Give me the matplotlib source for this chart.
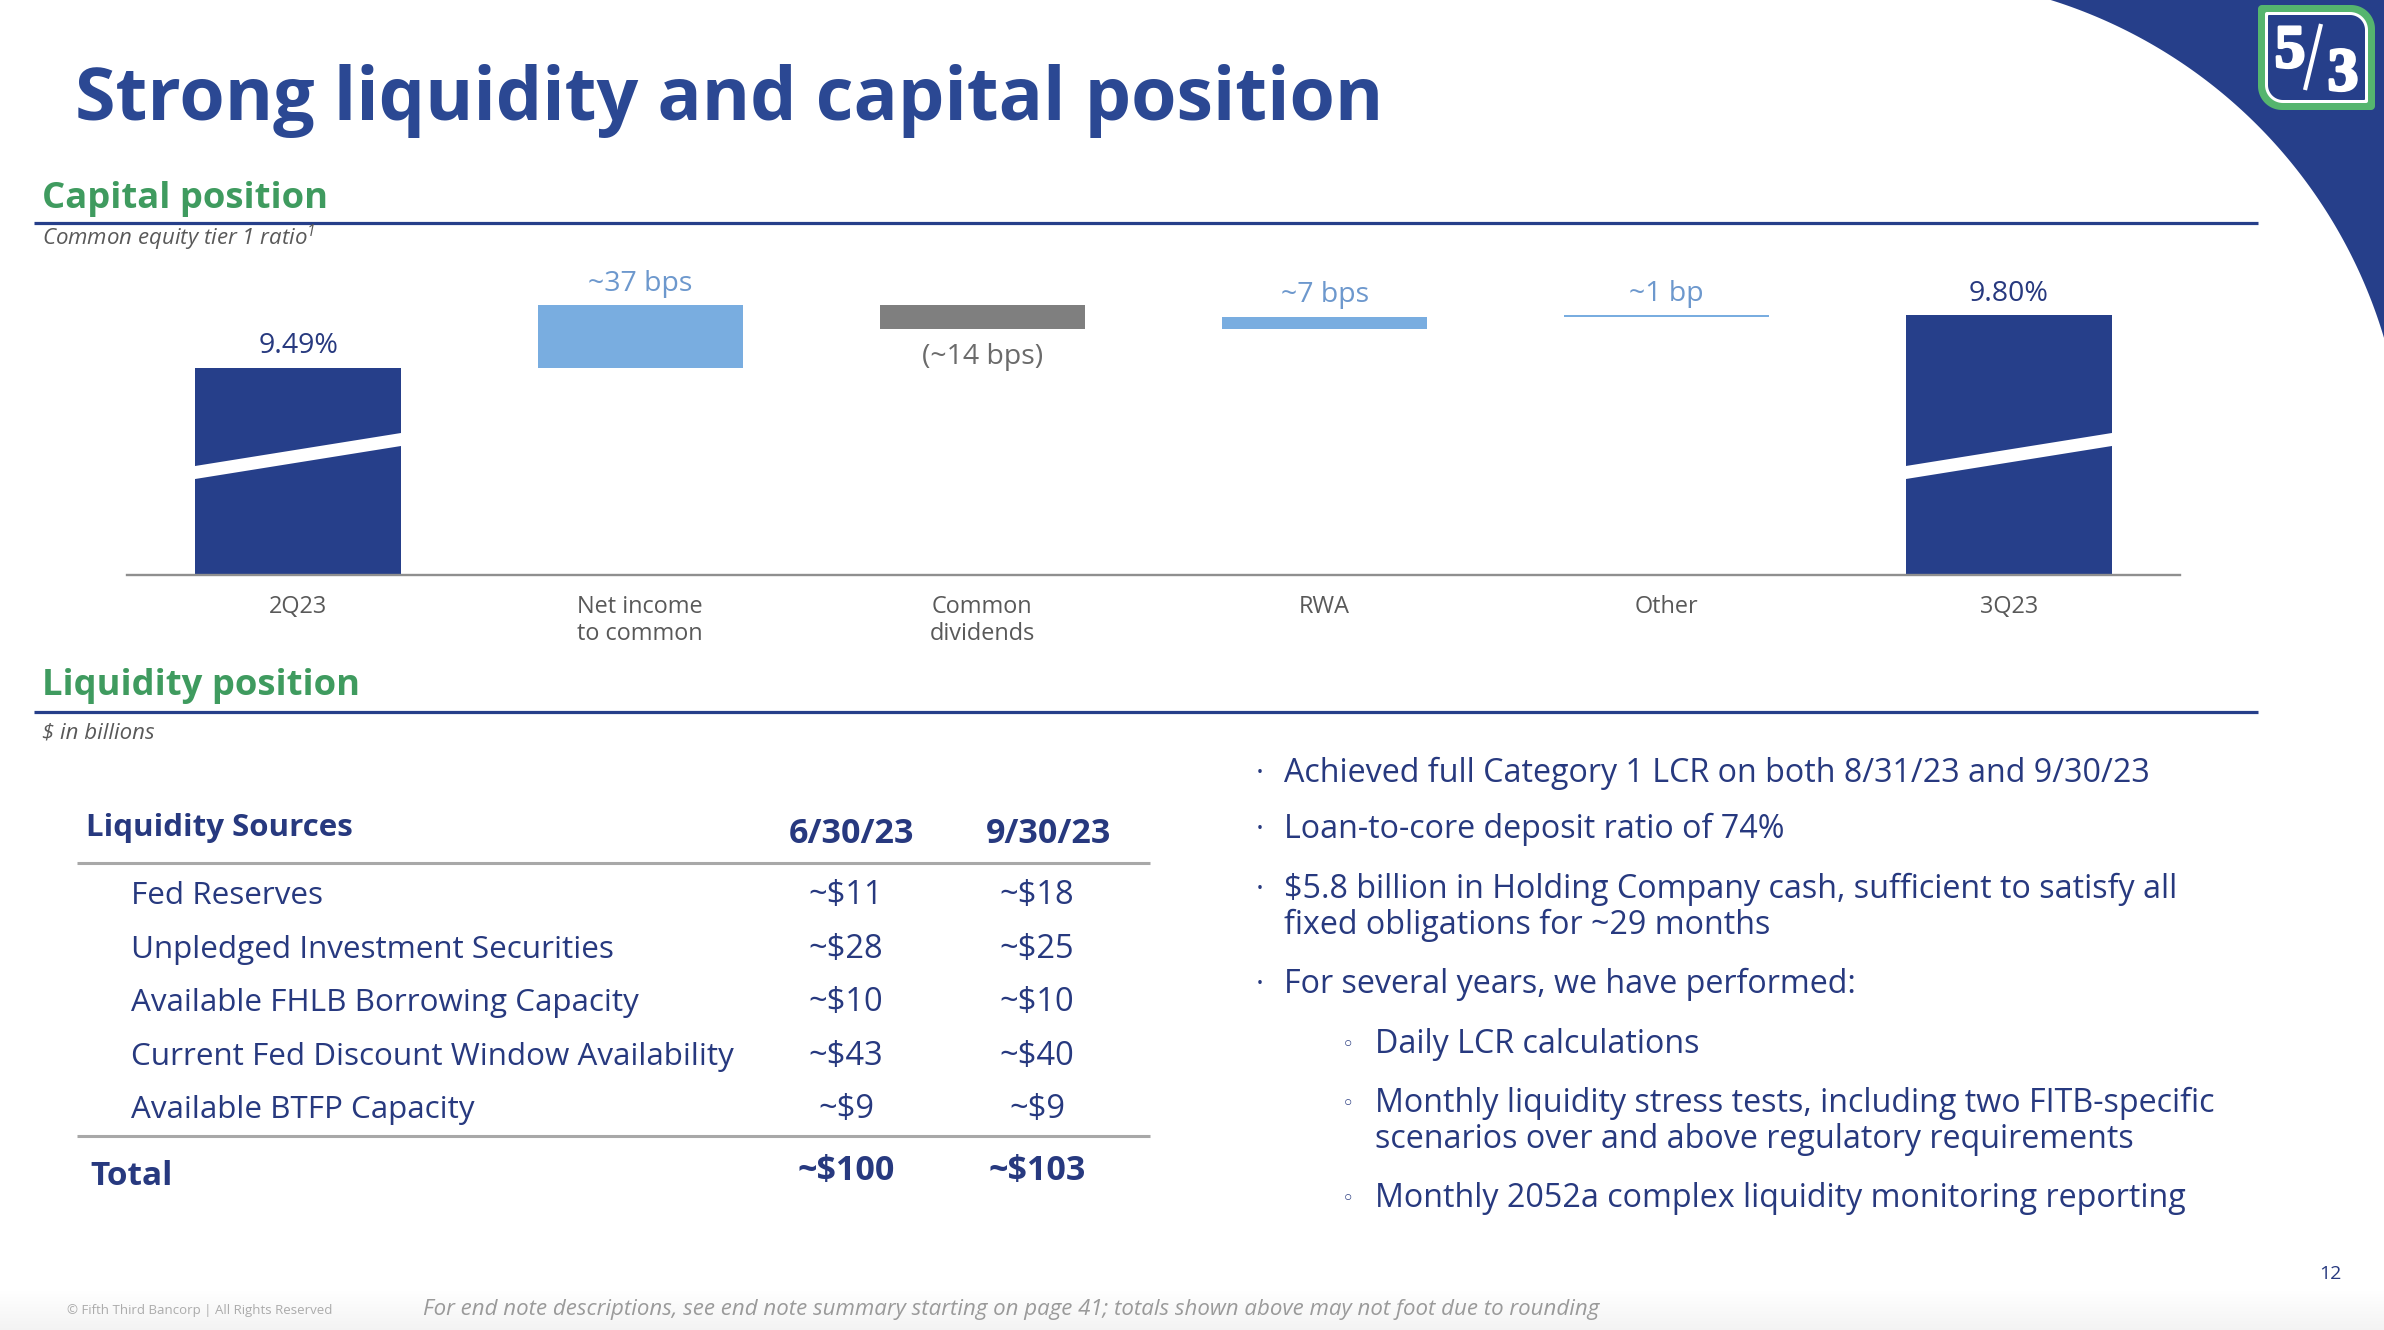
import matplotlib
matplotlib.use('Agg')
import matplotlib.pyplot as plt
from matplotlib import transforms
from matplotlib.patches import Polygon
import matplotlib.patheffects as pe
import numpy as np

# ---------------- data ----------------
categories = ['2Q23', 'Net income\nto common', 'Common\ndividends', 'RWA', 'Other', '3Q23']
start_ratio = 9.49          # CET1 ratio 2Q23, %
change_bps = [37, -14, 7, 1]  # net income, dividends, RWA, other
end_ratio = 9.80            # CET1 ratio 3Q23, %
value_labels = ['9.49%', '~37 bps', '(~14 bps)', '~7 bps', '~1 bp', '9.80%']

liq_sources = ['Fed Reserves', 'Unpledged Investment Securities',
               'Available FHLB Borrowing Capacity',
               'Current Fed Discount Window Availability', 'Available BTFP Capacity']
liq_jun = [11, 28, 10, 43, 9]
liq_sep = [18, 25, 10, 40, 9]
liq_total = [100, 103]
liq_dates = ['6/30/23', '9/30/23']

bullets = [
    (0, ['Achieved full Category 1 LCR on both 8/31/23 and 9/30/23']),
    (0, ['Loan-to-core deposit ratio of 74%']),
    (0, ['$5.8 billion in Holding Company cash, sufficient to satisfy all',
         'fixed obligations for ~29 months']),
    (0, ['For several years, we have performed:']),
    (1, ['Daily LCR calculations']),
    (1, ['Monthly liquidity stress tests, including two FITB-specific',
         'scenarios over and above regulatory requirements']),
    (1, ['Monthly 2052a complex liquidity monitoring reporting']),
]

# ---------------- style ----------------
W, H, DPI = 2384, 1330, 100
FONT = ['Open Sans', 'DejaVu Sans']
NAVY = '#263f8a'
TITLE_BLUE = '#2b4893'
TEXT_NAVY = '#27397f'
GREEN = '#3f9b5f'
LIGHT_BLUE = '#79ade0'
LABEL_BLUE = '#6d98cd'
GRAY_BAR = '#7f7f7f'
CAT_GRAY = '#595959'
LINE_GRAY = '#a8a8a8'
AXIS_FLOOR, AXIS_TOP = 8.2724, 10.1253

plt.rcParams['font.family'] = FONT

fig = plt.figure(figsize=(W / DPI, H / DPI), dpi=DPI)
fig.patch.set_facecolor('white')

# overlay in pixel coordinates (y down)
ov = fig.add_axes([0, 0, 1, 1])
ov.set_xlim(0, W)
ov.set_ylim(H, 0)
ov.axis('off')

# footer soft gradient
grad = np.linspace(1.0, 0.955, 40).reshape(-1, 1) * np.ones((1, 10))
ov.imshow(np.dstack([grad, grad, grad]), extent=[0, W, H, H - 40], aspect='auto', zorder=0)

# top-right crescent
cx, cy, R = 1900, 482, 505
t = np.linspace(np.arccos((2040 - cx) / R), np.arccos((W - cx) / R), 120)
arc = np.column_stack([cx + R * np.cos(t), cy - R * np.sin(t)])
cres = np.vstack([[[2040, -5]], arc, [[W + 5, arc[-1, 1]], [W + 5, -5]]])
ov.add_patch(Polygon(cres, closed=True, facecolor=NAVY, edgecolor='none', zorder=1))


def rrect(x0, y0, x1, y1, r):
    tl, tr, br, bl = r
    pts = []
    for (ccx, ccy, rr, a0, a1) in [(x0 + tl, y0 + tl, tl, 180, 270),
                                    (x1 - tr, y0 + tr, tr, 270, 360),
                                    (x1 - br, y1 - br, br, 0, 90),
                                    (x0 + bl, y1 - bl, bl, 90, 180)]:
        a = np.radians(np.linspace(a0, a1, 20))
        pts.append(np.column_stack([ccx + rr * np.cos(a), ccy + rr * np.sin(a)]))
    return np.vstack(pts)


# logo
lx0, ly0, lx1, ly1 = 2258, 5, 2375, 110
ov.add_patch(Polygon(rrect(lx0, ly0, lx1, ly1, (4, 24, 4, 24)), closed=True,
                     facecolor='#55b56e', edgecolor='none', zorder=2))
ov.add_patch(Polygon(rrect(lx0 + 7, ly0 + 7, lx1 - 7, ly1 - 7, (2, 18, 2, 18)), closed=True,
                     facecolor='white', edgecolor='none', zorder=3))
ov.add_patch(Polygon(rrect(lx0 + 10, ly0 + 10, lx1 - 10, ly1 - 10, (1, 15, 1, 15)), closed=True,
                     facecolor=NAVY, edgecolor='none', zorder=4))
thick = [pe.withStroke(linewidth=2.2, foreground='white')]
ov.text(2290, 67, '5', family=['Liberation Serif', 'DejaVu Serif'], fontweight='bold',
        fontsize=44, color='white', ha='center', va='baseline', zorder=5, path_effects=thick)
ov.plot([2321, 2305], [24, 90], color='white', lw=3.0, solid_capstyle='butt', zorder=5)
ov.text(2343, 90, '3', family=['Liberation Serif', 'DejaVu Serif'], fontweight='bold',
        fontsize=44, color='white', ha='center', va='baseline', zorder=5, path_effects=thick)

# title
ov.text(75, 120, 'Strong liquidity and capital position', fontsize=52.9, fontweight='bold',
        color=TITLE_BLUE, ha='left', va='baseline')

# section headers
ov.text(42, 208, 'Capital position', fontsize=26.2, fontweight='bold', color=GREEN,
        ha='left', va='baseline')
ov.plot([34, 2258], [222.5, 222.5], color=NAVY, lw=2.3, solid_capstyle='butt')
ov.text(42, 245, r'Common equity tier 1 ratio$^{\mathregular{1}}$', fontsize=16,
        style='italic', color='#595959', ha='left', va='baseline')

ov.text(42, 695, 'Liquidity position', fontsize=26.2, fontweight='bold', color=GREEN,
        ha='left', va='baseline')
ov.plot([34, 2258], [712, 712], color=NAVY, lw=2.3, solid_capstyle='butt')
ov.text(42, 738, '$ in billions', fontsize=16, style='italic', color='#595959',
        ha='left', va='baseline')

# ---------------- waterfall chart ----------------
ax = fig.add_axes([127 / W, 1 - 575 / H, (2180 - 127) / W, 315 / H])
ax.patch.set_alpha(0)
ax.set_xlim(-0.5, len(categories) - 0.5)
ax.set_ylim(AXIS_FLOOR, AXIS_TOP)

x = np.arange(len(categories))
bottoms, heights, colors = [AXIS_FLOOR], [start_ratio - AXIS_FLOOR], [NAVY]
tops = [start_ratio]
level = start_ratio
for c in change_bps:
    new = level + c / 100.0
    bottoms.append(min(level, new))
    heights.append(abs(c) / 100.0)
    colors.append(LIGHT_BLUE if c > 0 else GRAY_BAR)
    tops.append(max(level, new))
    level = new
bottoms.append(AXIS_FLOOR)
heights.append(end_ratio - AXIS_FLOOR)
colors.append(NAVY)
tops.append(end_ratio)

ax.bar(x, heights, bottom=bottoms, width=0.6, color=colors, linewidth=0, zorder=2)

# break marks on the truncated total bars
mix = transforms.blended_transform_factory(ax.transData, ov.transData)
for i in (0, len(categories) - 1):
    xl, xr = i - 0.3, i + 0.3
    yl, yr = 473, 439
    band = [(xl - 0.01, yl - 6.5), (xr + 0.01, yr - 6.5), (xr + 0.01, yr + 6.5), (xl - 0.01, yl + 6.5)]
    ax.add_patch(Polygon(band, closed=True, transform=mix, facecolor='white',
                         edgecolor='none', zorder=3, clip_on=False))

label_colors = [TEXT_NAVY, LABEL_BLUE, '#6b6b6b', LABEL_BLUE, LABEL_BLUE, TEXT_NAVY]
changes_all = [1] + change_bps + [1]
for i, lab in enumerate(value_labels):
    if changes_all[i] < 0:
        ax.annotate(lab, (x[i], bottoms[i]), xytext=(0, -25.5), textcoords='offset points',
                    ha='center', va='baseline', fontsize=20.5, color=label_colors[i])
    else:
        ax.annotate(lab, (x[i], tops[i]), xytext=(0, 10.5), textcoords='offset points',
                    ha='center', va='baseline', fontsize=20.5, color=label_colors[i])

for s in ('top', 'right', 'left'):
    ax.spines[s].set_visible(False)
ax.spines['bottom'].set_color('#8f8f8f')
ax.spines['bottom'].set_linewidth(1.7)
ax.set_xticks([])
ax.set_yticks([])

for i, cat in enumerate(categories):
    for k, line in enumerate(cat.split('\n')):
        ov.text(x[i], 613 + 27 * k, line, transform=mix, fontsize=16.9, color=CAT_GRAY,
                ha='center', va='baseline')

# ---------------- liquidity table ----------------
COL1, COL2 = 846, 1037
ov.text(86, 836, 'Liquidity Sources', fontsize=22.5, fontweight='bold', color=TEXT_NAVY,
        ha='left', va='baseline')
for cxp, d in zip((COL1 + 6, COL2 + 12), liq_dates):
    ov.text(cxp, 843, d, fontsize=24.5, fontweight='bold', color=TEXT_NAVY,
            ha='center', va='baseline')
ov.plot([77, 1150], [863, 863], color=LINE_GRAY, lw=2.2, solid_capstyle='butt')
for r, (name, a, b) in enumerate(zip(liq_sources, liq_jun, liq_sep)):
    yb = 904.5 + 53.4 * r
    ov.text(131, yb, name, fontsize=22.6, color=TEXT_NAVY, ha='left', va='baseline')
    ov.text(COL1, yb, f'~${a}', fontsize=23.5, color=TEXT_NAVY, ha='center', va='baseline')
    ov.text(COL2, yb, f'~${b}', fontsize=23.5, color=TEXT_NAVY, ha='center', va='baseline')
ov.plot([77, 1150], [1136, 1136], color=LINE_GRAY, lw=2.2, solid_capstyle='butt')
ov.text(90, 1185, 'Total', fontsize=24, fontweight='bold', color=TEXT_NAVY,
        ha='left', va='baseline')
ov.text(COL1, 1180, f'~${liq_total[0]}', fontsize=24.5, fontweight='bold', color=TEXT_NAVY,
        ha='center', va='baseline')
ov.text(COL2, 1180, f'~${liq_total[1]}', fontsize=24.5, fontweight='bold', color=TEXT_NAVY,
        ha='center', va='baseline')

# ---------------- bullets ----------------
y_b = [782, 838, 898, 993, 1053, 1112, 1207]
for (lvl, lines), yb in zip(bullets, y_b):
    if lvl == 0:
        ov.text(1256, yb, '\u00b7', fontsize=22, color=TEXT_NAVY, ha='left', va='baseline')
        tx = 1284
    else:
        ov.text(1342, yb - 2, '\u25e6', fontsize=15, color=TEXT_NAVY, ha='left',
                va='baseline', family=['DejaVu Sans'])
        tx = 1375
    for k, line in enumerate(lines):
        ov.text(tx, yb + 35.5 * k, line, fontsize=23.2, color=TEXT_NAVY, ha='left', va='baseline')

# ---------------- footer ----------------
ov.text(67, 1314, '\u00a9 Fifth Third Bancorp | All Rights Reserved', fontsize=9.5,
        color='#ababab', ha='left', va='baseline')
ov.text(423, 1315, 'For end note descriptions, see end note summary starting on page 41; '
        'totals shown above may not foot due to rounding', fontsize=16, style='italic',
        color='#9a9a9a', ha='left', va='baseline')
ov.text(2330, 1279, '12', fontsize=14, color=TEXT_NAVY, ha='center', va='baseline')

fig.savefig('out.png', dpi=DPI, facecolor='white')
